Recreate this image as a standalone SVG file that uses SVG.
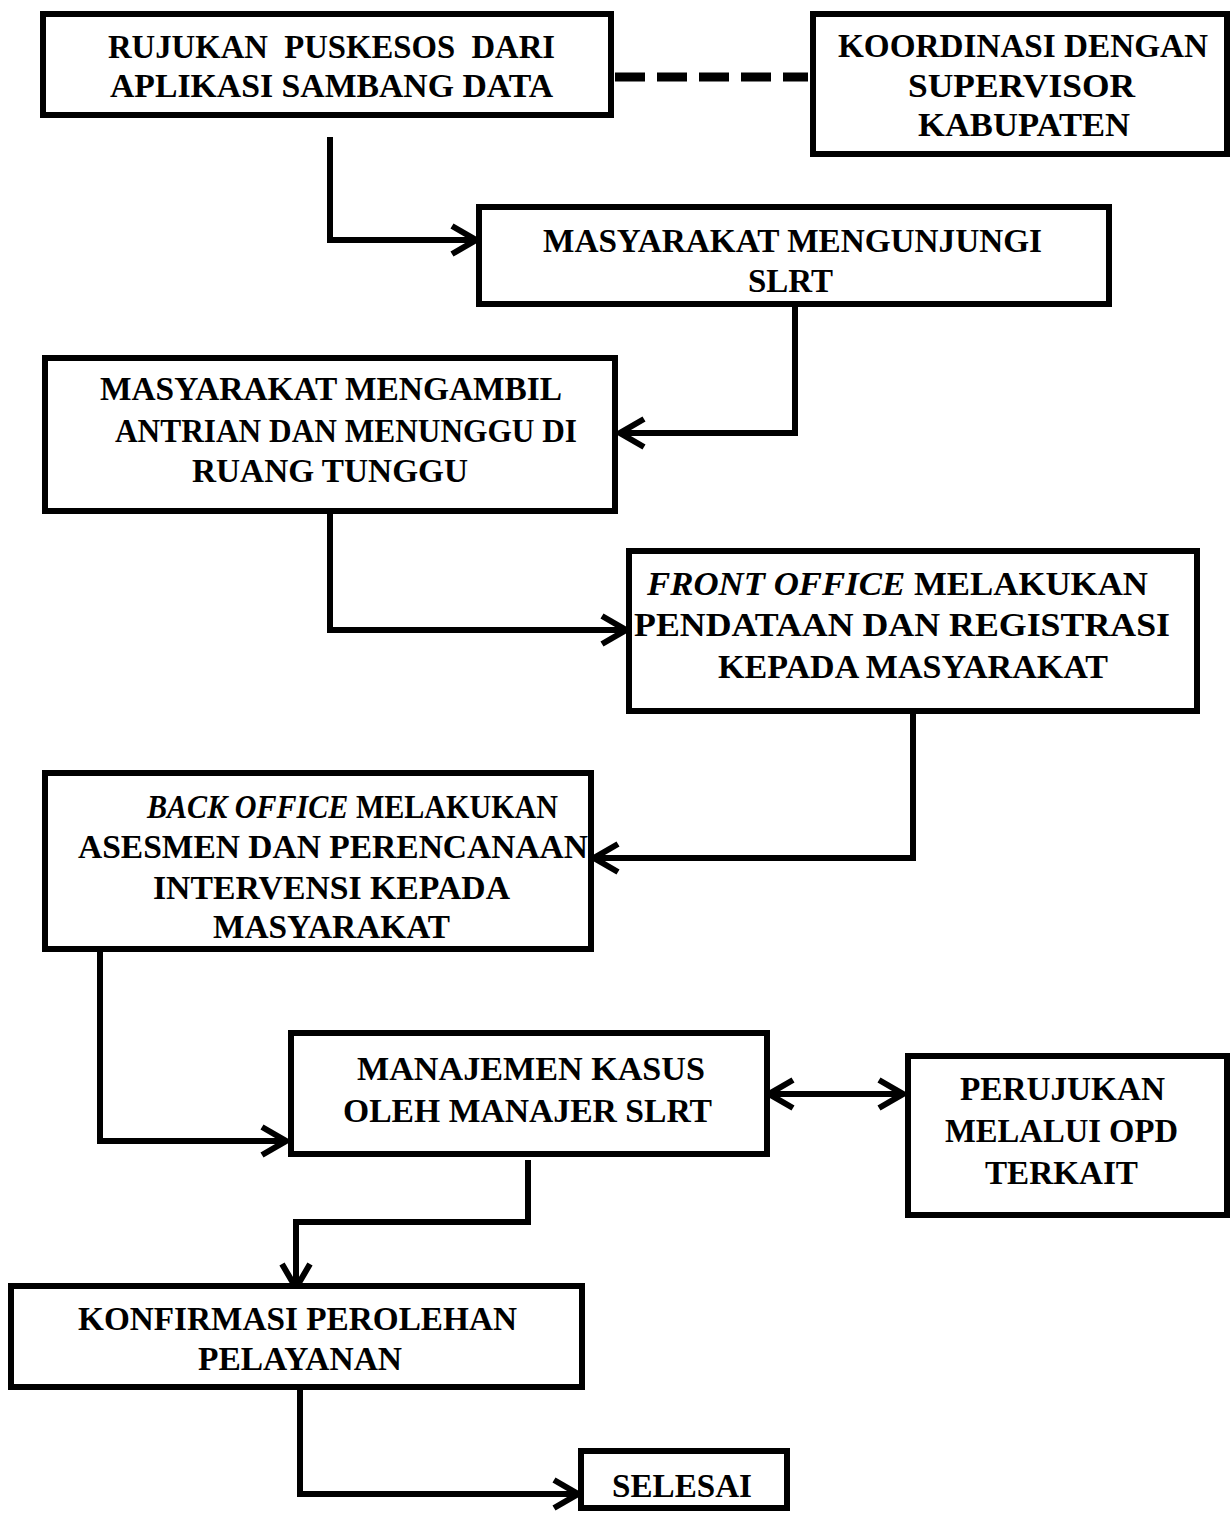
<svg xmlns="http://www.w3.org/2000/svg" width="1231" height="1513" viewBox="0 0 1231 1513">
<style>
.box{fill:#fff;stroke:#000;stroke-width:6}
.t{font-family:"Liberation Serif","Times New Roman",serif;font-weight:bold;font-size:33px;fill:#000}
.i{font-style:italic}
.c{fill:none;stroke:#000;stroke-width:6;stroke-linejoin:miter}
.d{fill:none;stroke:#000;stroke-width:9;stroke-dasharray:30 12}
</style>
<defs>
<marker id="ah" viewBox="-32 -17 36 34" refX="0" refY="0" markerWidth="36" markerHeight="34" orient="auto-start-reverse" markerUnits="userSpaceOnUse">
<path d="M-24,-14 L0,0 L-24,14" fill="none" stroke="#000" stroke-width="6" stroke-linecap="butt"/>
</marker>
</defs>
<rect width="1231" height="1513" fill="#fff"/>
<g id="connectors">
<path class="d" d="M615,77 L808,77"/>
<path class="c" d="M330,137 L330,240 L476,240" marker-end="url(#ah)"/>
<path class="c" d="M795,307 L795,433 L620,433" marker-end="url(#ah)"/>
<path class="c" d="M330,514 L330,630 L626,630" marker-end="url(#ah)"/>
<path class="c" d="M913,714 L913,858 L594,858" marker-end="url(#ah)"/>
<path class="c" d="M100,952 L100,1141 L286,1141" marker-end="url(#ah)"/>
<path class="c" d="M769,1094 L903,1094" marker-start="url(#ah)" marker-end="url(#ah)"/>
<path class="c" d="M528,1160 L528,1222 L296,1222 L296,1288" marker-end="url(#ah)"/>
<path class="c" d="M300,1390 L300,1494 L578,1494" marker-end="url(#ah)"/>
</g>
<g id="n1">
<rect class="box" x="43" y="14" width="568" height="101"/>
<text class="t" x="108" y="58" textLength="447" lengthAdjust="spacingAndGlyphs" xml:space="preserve">RUJUKAN  PUSKESOS  DARI</text>
<text class="t" x="110" y="97" textLength="443" lengthAdjust="spacingAndGlyphs">APLIKASI SAMBANG DATA</text>
</g>
<g id="n2">
<rect class="box" x="813" y="14" width="414" height="140"/>
<text class="t" x="838" y="57" textLength="370" lengthAdjust="spacingAndGlyphs">KOORDINASI DENGAN</text>
<text class="t" x="908" y="97" textLength="227" lengthAdjust="spacingAndGlyphs">SUPERVISOR</text>
<text class="t" x="918" y="136" textLength="212" lengthAdjust="spacingAndGlyphs">KABUPATEN</text>
</g>
<g id="n3">
<rect class="box" x="479" y="207" width="630" height="97"/>
<text class="t" x="543" y="252" textLength="499" lengthAdjust="spacingAndGlyphs">MASYARAKAT MENGUNJUNGI</text>
<text class="t" x="748" y="292" textLength="85" lengthAdjust="spacingAndGlyphs">SLRT</text>
</g>
<g id="n4">
<rect class="box" x="45" y="358" width="570" height="153"/>
<text class="t" x="100" y="400" textLength="462" lengthAdjust="spacingAndGlyphs">MASYARAKAT MENGAMBIL</text>
<text class="t" x="115" y="442" textLength="462" lengthAdjust="spacingAndGlyphs">ANTRIAN DAN MENUNGGU DI</text>
<text class="t" x="192" y="482" textLength="276" lengthAdjust="spacingAndGlyphs">RUANG TUNGGU</text>
</g>
<g id="n5">
<rect class="box" x="629" y="551" width="568" height="160"/>
<text class="t" x="647" y="595" textLength="501" lengthAdjust="spacingAndGlyphs"><tspan class="i">FRONT OFFICE</tspan> MELAKUKAN</text>
<text class="t" x="634" y="636" textLength="536" lengthAdjust="spacingAndGlyphs">PENDATAAN DAN REGISTRASI</text>
<text class="t" x="718" y="678" textLength="390" lengthAdjust="spacingAndGlyphs">KEPADA MASYARAKAT</text>
</g>
<g id="n6">
<rect class="box" x="45" y="773" width="546" height="176"/>
<text class="t" x="147" y="818" textLength="411" lengthAdjust="spacingAndGlyphs"><tspan class="i">BACK OFFICE</tspan> MELAKUKAN</text>
<text class="t" x="78" y="858" textLength="510" lengthAdjust="spacingAndGlyphs">ASESMEN DAN PERENCANAAN</text>
<text class="t" x="153" y="899" textLength="357" lengthAdjust="spacingAndGlyphs">INTERVENSI KEPADA</text>
<text class="t" x="213" y="938" textLength="237" lengthAdjust="spacingAndGlyphs">MASYARAKAT</text>
</g>
<g id="n7">
<rect class="box" x="291" y="1033" width="476" height="121"/>
<text class="t" x="357" y="1080" textLength="348" lengthAdjust="spacingAndGlyphs">MANAJEMEN KASUS</text>
<text class="t" x="343" y="1122" textLength="369" lengthAdjust="spacingAndGlyphs">OLEH MANAJER SLRT</text>
</g>
<g id="n8">
<rect class="box" x="908" y="1056" width="319" height="159"/>
<text class="t" x="960" y="1100" textLength="205" lengthAdjust="spacingAndGlyphs">PERUJUKAN</text>
<text class="t" x="945" y="1142" textLength="233" lengthAdjust="spacingAndGlyphs">MELALUI OPD</text>
<text class="t" x="985" y="1184" textLength="153" lengthAdjust="spacingAndGlyphs">TERKAIT</text>
</g>
<g id="n9">
<rect class="box" x="11" y="1286" width="571" height="101"/>
<text class="t" x="78" y="1330" textLength="439" lengthAdjust="spacingAndGlyphs">KONFIRMASI PEROLEHAN</text>
<text class="t" x="198" y="1370" textLength="204" lengthAdjust="spacingAndGlyphs">PELAYANAN</text>
</g>
<g id="n10">
<rect class="box" x="581" y="1451" width="206" height="57"/>
<text class="t" x="612" y="1497" textLength="140" lengthAdjust="spacingAndGlyphs">SELESAI</text>
</g>
</svg>
